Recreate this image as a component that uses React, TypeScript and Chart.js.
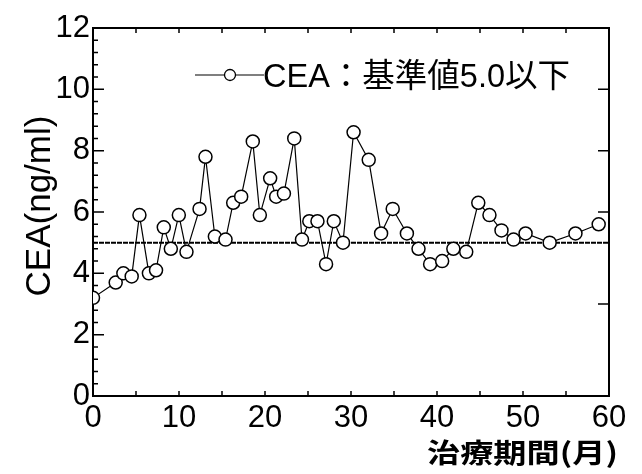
import React, { useEffect, useRef } from "react";
import { Chart, registerables } from "chart.js";

Chart.register(...registerables);

// ---- data ----
const months = [0, 2.64, 3.53, 4.5, 5.4, 6.5, 7.33, 8.23, 9.05, 9.98, 10.87, 12.39, 13.08, 14.17, 15.41, 16.3, 17.23, 18.58, 19.4, 20.6, 21.3, 22.2, 23.4, 24.3, 25.15, 26.1, 27.1, 28.0, 29.07, 30.3, 32.06, 33.5, 34.85, 36.5, 37.85, 39.2, 40.6, 41.9, 43.4, 44.8, 46.1, 47.5, 48.9, 50.3, 53.1, 56.1, 58.8];
const cea = [3.2, 3.7, 4.0, 3.9, 5.9, 4.0, 4.1, 5.5, 4.8, 5.9, 4.7, 6.1, 7.8, 5.2, 5.1, 6.3, 6.5, 8.3, 5.9, 7.1, 6.5, 6.6, 8.4, 5.1, 5.7, 5.7, 4.3, 5.7, 5.0, 8.6, 7.7, 5.3, 6.1, 5.3, 4.8, 4.3, 4.4, 4.8, 4.7, 6.3, 5.9, 5.4, 5.1, 5.3, 5.0, 5.3, 5.6];
const referenceValue = 5.0;
const xRange = [0, 60];
const yRange = [0, 12];
const xTickStep = 10;
const yTickStep = 2;
const xMinorTicks = [5, 10, 15, 20, 25, 30, 35, 40, 45, 50, 55];
const yMinorStep = 0.4;
const rightTicks = [0, 3, 6, 8, 10, 12];
const legendText = "CEA：基準値5.0以下";
const yTitle = "CEA(ng/ml)";
const xTitle = "治療期間(月)";

const LATIN = '"Liberation Sans", Arial, "Noto Sans CJK JP", sans-serif';

const framePlugin = {
  id: "frame",
  beforeDatasetsDraw(chart: any) {
    const { ctx, chartArea: a, scales } = chart;
    const xs = scales.x;
    const ys = scales.y;
    ctx.save();
    ctx.strokeStyle = "#000";
    ctx.lineWidth = 2;
    ctx.strokeRect(a.left, a.top, a.right - a.left, a.bottom - a.top);
    ctx.lineWidth = 1.5;
    ctx.beginPath();
    for (const v of xMinorTicks) {
      const px = xs.getPixelForValue(v);
      ctx.moveTo(px, a.bottom);
      ctx.lineTo(px, a.bottom - 5);
      ctx.moveTo(px, a.top);
      ctx.lineTo(px, a.top + 5);
    }
    const n = Math.round((yRange[1] - yRange[0]) / yMinorStep);
    for (let i = 1; i < n; i++) {
      const v = yRange[0] + i * yMinorStep;
      const py = ys.getPixelForValue(v);
      const major = Math.abs(v / yTickStep - Math.round(v / yTickStep)) < 1e-6;
      ctx.moveTo(a.left, py);
      ctx.lineTo(a.left + (major ? 11 : 5), py);
    }
    for (const v of rightTicks) {
      const py = ys.getPixelForValue(v);
      ctx.moveTo(a.right, py);
      ctx.lineTo(a.right - 11, py);
    }
    ctx.stroke();
    ctx.restore();
  },
  afterDraw(chart: any) {
    const { ctx } = chart;
    ctx.save();
    // legend
    ctx.strokeStyle = "#000";
    ctx.lineWidth = 1.2;
    ctx.beginPath();
    ctx.moveTo(195, 75);
    ctx.lineTo(264, 75);
    ctx.stroke();
    ctx.beginPath();
    ctx.arc(230, 75, 5.5, 0, Math.PI * 2);
    ctx.fillStyle = "#fff";
    ctx.fill();
    ctx.lineWidth = 1.3;
    ctx.stroke();
    ctx.fillStyle = "#000";
    ctx.font = `32.5px ${LATIN}`;
    ctx.textAlign = "left";
    ctx.textBaseline = "alphabetic";
    ctx.fillText(legendText, 263, 87);
    // y title
    ctx.save();
    ctx.font = `35px ${LATIN}`;
    ctx.translate(50, 206);
    ctx.rotate(-Math.PI / 2);
    ctx.textAlign = "center";
    ctx.fillText(yTitle, 0, 0);
    ctx.restore();
    // x title
    ctx.save();
    ctx.font = `bold 27px "Noto Sans CJK JP", ${LATIN}`;
    const w = ctx.measureText(xTitle).width;
    const target = 191;
    ctx.translate(427, 463);
    ctx.scale(target / w, 1);
    ctx.textAlign = "left";
    ctx.fillText(xTitle, 0, 0);
    ctx.restore();
    ctx.restore();
  },
};

export default function App() {
  const ref = useRef<HTMLCanvasElement | null>(null);
  useEffect(() => {
    if (!ref.current) return;
    const points = months.map((m, i) => ({ x: m, y: cea[i] }));
    const chart = new Chart(ref.current, {
      type: "line",
      data: {
        datasets: [
          {
            label: "CEA",
            data: points,
            borderColor: "#000",
            borderWidth: 1.2,
            backgroundColor: "#fff",
            pointRadius: 6.5,
            pointBorderWidth: 1.5,
            pointBackgroundColor: "#fff",
            pointBorderColor: "#000",
            tension: 0,
            order: 1,
          },
          {
            label: "基準値",
            data: [
              { x: xRange[0], y: referenceValue },
              { x: xRange[1], y: referenceValue },
            ],
            borderColor: "#000",
            borderWidth: 2,
            borderDash: [5, 1],
            pointRadius: 0,
            order: 2,
          },
        ],
      },
      options: {
        animation: false,
        responsive: false,
        devicePixelRatio: 1,
        layout: { padding: { left: 0, top: 28, right: 33, bottom: 0 } },
        plugins: { legend: { display: false }, tooltip: { enabled: false } },
        scales: {
          x: {
            type: "linear",
            min: xRange[0],
            max: xRange[1],
            grid: { display: false, drawTicks: false },
            border: { display: false },
            ticks: {
              stepSize: xTickStep,
              padding: 4,
              color: "#000",
              font: { family: LATIN, size: 31 },
              maxRotation: 0,
            },
            afterFit: (s: any) => {
              s.height = 78;
            },
          },
          y: {
            type: "linear",
            min: yRange[0],
            max: yRange[1],
            grid: { display: false, drawTicks: false },
            border: { display: false },
            ticks: {
              stepSize: yTickStep,
              padding: 3,
              color: "#000",
              font: { family: LATIN, size: 31 },
            },
            afterFit: (s: any) => {
              s.width = 93;
            },
          },
        },
      },
      plugins: [framePlugin],
    });
    return () => chart.destroy();
  }, []);
  return (
    <div style={{ position: "fixed", left: 0, top: 0, width: 642, height: 474, background: "#fff" }}>
      <canvas ref={ref} width={642} height={474} />
    </div>
  );
}
